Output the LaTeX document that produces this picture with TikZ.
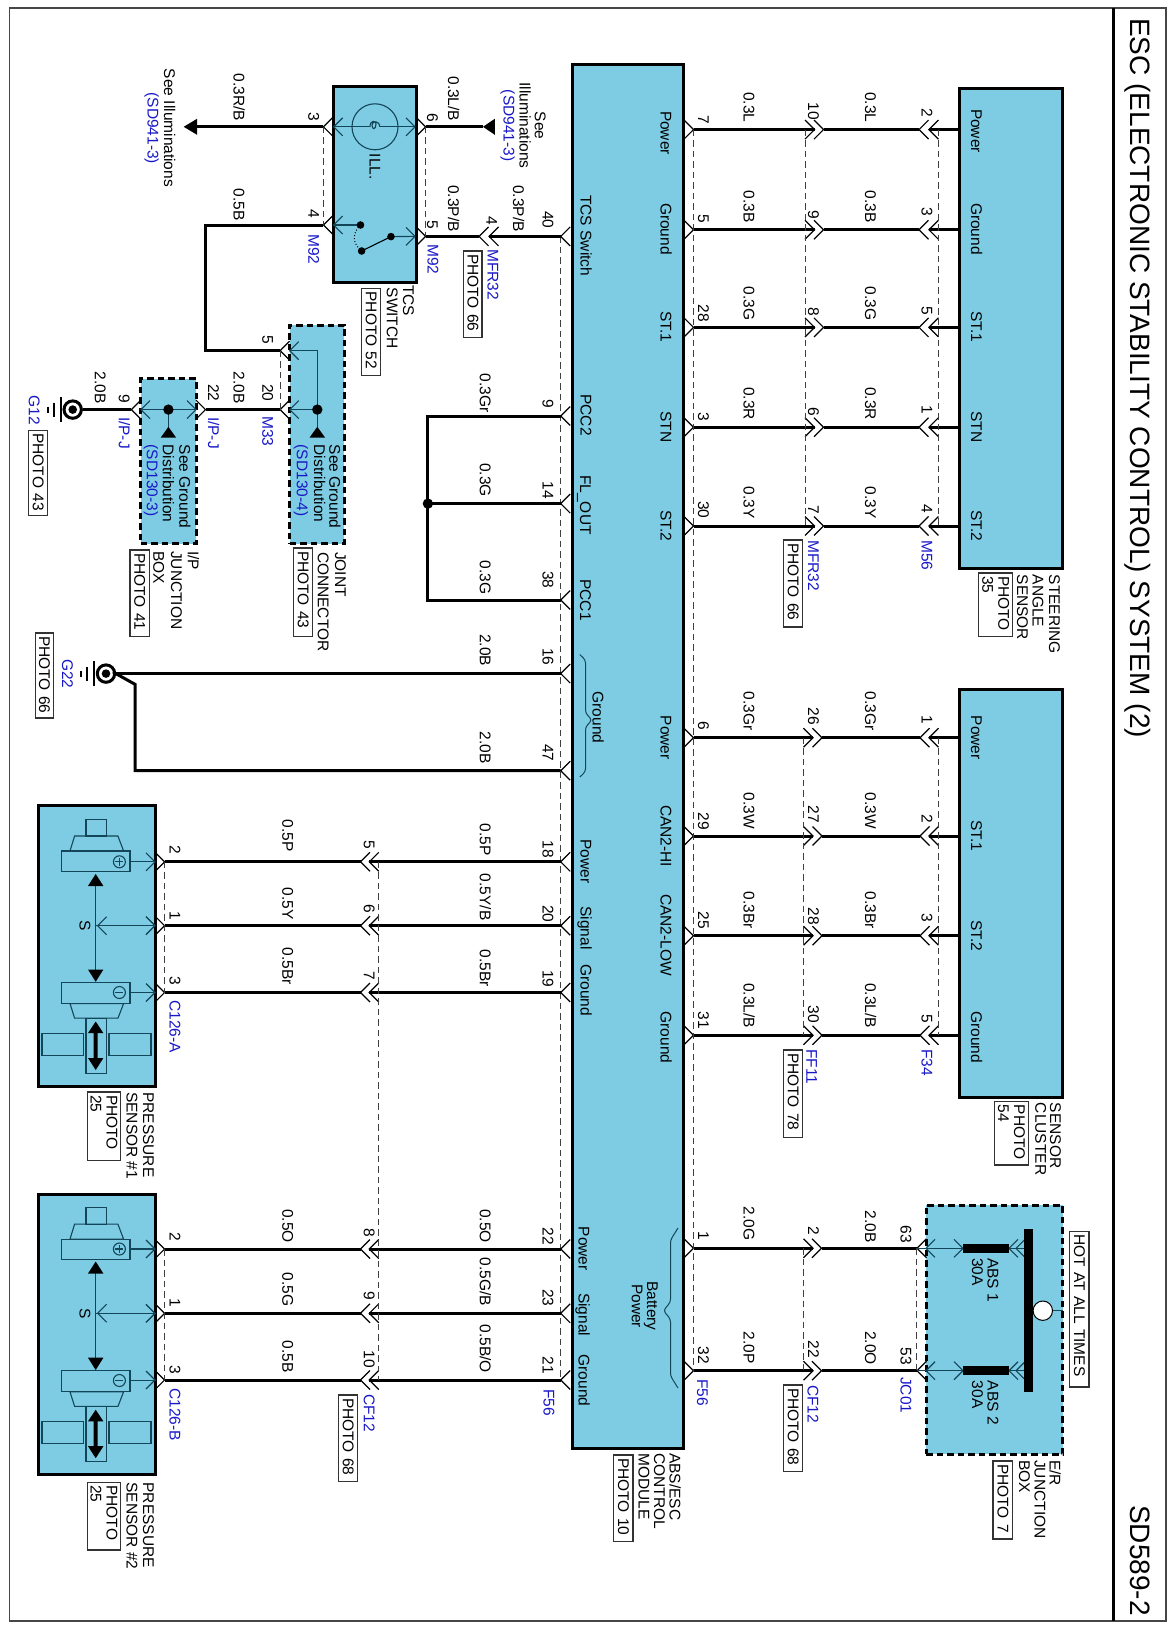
\documentclass[tikz,border=0pt]{standalone}
\usepackage{fontspec}
\setmainfont{Liberation Sans}
\newcount\lblcnt
\definecolor{modfill}{RGB}{126,204,227}
\definecolor{reflbl}{RGB}{24,24,200}
\definecolor{inkline}{RGB}{20,70,90}
\definecolor{framegray}{RGB}{70,70,70}
\tikzset{
 lbl/.style={rotate=-90,inner sep=0pt,font=\fontsize{15.5}{16}\selectfont,text height=11pt,text depth=0pt},
 reflabel/.style={lbl,text=reflbl},
 titlelbl/.style={rotate=-90,inner sep=0pt,font=\fontsize{28}{28}\selectfont,text height=20pt,text depth=0pt},
 wire/.style={line width=3pt,line cap=butt},
 hair/.style={line width=1.2pt,black},
 inner/.style={line width=1.1pt,inkline},
 dashw/.style={line width=1pt,black!75,dash pattern=on 6.5pt off 4pt},
 solidbox/.style={draw=black,fill=modfill,line width=3pt,inner sep=0pt},
 dashbox/.style={draw=black,fill=modfill,line width=3pt,inner sep=0pt,dash pattern=on 6.5pt off 4pt},
 photobox/.style={draw=black!80,line width=1.1pt,rotate=-90,inner xsep=3pt,inner ysep=0pt,font=\fontsize{15.5}{16}\selectfont,align=left},
}
\newcommand\Lx[4][lbl]{\global\advance\lblcnt 1 \node[#1,anchor=west] (n\the\lblcnt) at (#2,#3) {#4};}
\newcommand\Le[4][lbl]{\global\advance\lblcnt 1 \node[#1,anchor=east] (n\the\lblcnt) at (#2,#3) {#4};}
\newcommand\Lc[4][lbl]{\global\advance\lblcnt 1 \node[#1,anchor=center] (n\the\lblcnt) at (#2,#3) {#4};}
\newcommand\chev[3]{\draw[hair] ({#1+(#3)*9.5},{#2-9.5}) -- (#1,#2) -- ({#1+(#3)*9.5},{#2+9.5});}
\newcommand\ichev[3]{\draw[inner] ({#1+(#3)*9},{#2-9}) -- (#1,#2) -- ({#1+(#3)*9},{#2+9});}
\newcommand\modbox[6]{\node[#6,minimum width={(#4-#2)*1pt},minimum height={(#5-#3)*1pt},anchor=center] (#1) at ({(#2+#4)/2},{(#3+#5)/2}) {};}
\newcommand\pbox[5]{\global\advance\lblcnt 1 \pgfmathsetmacro\pw{#4-#2}\pgfmathsetmacro\ph{#3-#1}\node[photobox,text width={(\pw-6)*1pt},minimum height={\ph*1pt},anchor=center] (n\the\lblcnt) at ({(#1+#3)/2},{(#2+#4)/2}) {#5};}
% row from ECU right side through in-line connector to a sensor box
\newcommand\sensrow[7]{
 \coordinate (#1-e) at (693.5,#2); \coordinate (#1-a) at (#3,#2); \coordinate (#1-b) at (#4,#2);
 \coordinate (#1-c) at (#5,#2); \coordinate (#1-d) at (#6,#2); \coordinate (#1-f) at (#7,#2);
 \chev{693.5}{#2}{-1}\chev{#3}{#2}{-1}\chev{#4}{#2}{-1}\chev{#5}{#2}{1}\chev{#6}{#2}{1}
 \draw[wire] (#1-e) -- (#1-a); \draw[wire] (#1-b) -- (#1-c); \draw[wire] (#1-d) -- (#1-f);}
% pressure sensor rows
\newcommand\presrow[2]{
 \coordinate (#1-s) at (164.6,#2); \coordinate (#1-a) at (360.5,#2); \coordinate (#1-b) at (369.3,#2);
 \coordinate (#1-e) at (560.7,#2);
 \chev{164.6}{#2}{-1}\chev{360.5}{#2}{1}\chev{369.3}{#2}{1}\chev{560.7}{#2}{1}
 \ichev{155}{#2}{-1}
 \draw[wire] (#1-s) -- (#1-a); \draw[wire] (#1-b) -- (#1-e);}
% pressure sensor interior
\newcommand\psens[6]{
 \draw[inner] (86,#1) rectangle (106.4,{#1+16.4});
 \draw[inner] (74.6,{#1+16.4}) -- (117.9,{#1+16.4}) -- (123.6,{#1+31.4}) -- (70,{#1+31.4}) -- cycle;
 \draw[inner] (61.2,{#1+31.4}) rectangle (130,#2);
 \draw[inner] (119.4,#3) circle[radius=6];
 \draw[inner] (115.4,#3) -- (123.4,#3); \draw[inner] (119.4,{#3-4}) -- (119.4,{#3+4});
 \draw[inner] (130,#3) -- (155,#3);
 \draw[inner] (95.7,{#2+10}) -- (95.7,{#5-10});
 \fill[black] (95.7,{#2+2.2}) -- (103.4,{#2+14.2}) -- (88,{#2+14.2}) -- cycle;
 \fill[black] (95.7,{#5-0.7}) -- (103.4,{#5-13}) -- (88,{#5-13}) -- cycle;
 \draw[inner] (95.7,#4) -- (155,#4); \ichev{97.6}{#4}{1}\ichev{155}{#4}{-1}
 \Lc{85}{#4}{S}
 \draw[inner] (61.2,#5) rectangle (130,{#5+21.1});
 \draw[inner] (119.4,#6) circle[radius=6]; \draw[inner] (115.4,#6) -- (123.4,#6);
 \draw[inner] (130,#6) -- (155,#6);
 \draw[inner] (70,{#5+21.1}) -- (123.6,{#5+21.1}) -- (118,{#5+35.6}) -- (74.6,{#5+35.6}) -- cycle;
 \draw[inner] (86,{#5+35.6}) rectangle (106.4,{#5+91});
 \draw[inner] (42,{#5+50.6}) rectangle (83.4,{#5+73});
 \draw[inner] (109,{#5+50.6}) rectangle (151,{#5+73});
 \fill[black] (95.7,{#5+39}) -- (103.4,{#5+50.6}) -- (97.7,{#5+50.6}) -- (97.7,{#5+75.5}) -- (103.4,{#5+75.5}) -- (95.7,{#5+87.5}) -- (88,{#5+75.5}) -- (93.7,{#5+75.5}) -- (93.7,{#5+50.6}) -- (88,{#5+50.6}) -- cycle;
}
\newcommand\gnd[3]{
 \draw[line width=3pt,fill=white] (#2,#3) circle[radius=8.7];
 \fill[black] (#2,#3) circle[radius=4.3];
 \coordinate (#1) at ({#2+10},#3);
 \draw[line width=2.4pt] ({#2-12},{#3-12.5}) -- ({#2-12},{#3+12.5});
 \draw[line width=2.4pt] ({#2-19},{#3-7}) -- ({#2-19},{#3+7});
 \draw[line width=2.4pt] ({#2-25},{#3-3}) -- ({#2-25},{#3+3});
}
\begin{document}
\begin{tikzpicture}[x=1pt,y=-1pt]
\useasboundingbox (0,0) rectangle (1172,1632);
% frame
\draw[framegray,line width=1.2pt] (9.5,8) rectangle (1166,1621);
\coordinate (bar-t) at (1113.5,8); \coordinate (bar-b) at (1113.5,1621);
\draw[line width=3.6pt] (bar-t) -- (bar-b);
\node[titlelbl,anchor=west] (title) at (1140,18) {ESC (ELECTRONIC STABILITY CONTROL) SYSTEM (2)};
\node[titlelbl,anchor=west] (code) at (1140,1505) {SD589-2};

% boxes
\modbox{ecu}{572}{65}{683.3}{1448}{solidbox}
\modbox{sas}{959.3}{88.4}{1062.7}{568}{solidbox}
\modbox{clu}{959.3}{689.3}{1062.7}{1097.7}{solidbox}
\modbox{erj}{926}{1205}{1062.7}{1454}{dashbox}
\modbox{tcs}{333.7}{86.8}{416.4}{282}{solidbox}
\modbox{jnt}{289.7}{325}{344.4}{543.6}{dashbox}
\modbox{ipj}{140.8}{378.6}{196}{543.6}{dashbox}
\modbox{ps1}{38.3}{805.7}{155}{1086}{solidbox}
\modbox{ps2}{38.3}{1194}{155}{1474.3}{solidbox}

% steering angle sensor rows
\sensrow{a1}{129.6}{814.5}{823.5}{919}{928.9}{959.3}
\sensrow{a2}{229.8}{814.5}{823.5}{919}{928.9}{959.3}
\sensrow{a3}{327.4}{814.5}{823.5}{919}{928.9}{959.3}
\sensrow{a4}{427.2}{814.5}{823.5}{919}{928.9}{959.3}
\sensrow{a5}{526}{814.5}{823.5}{919}{928.9}{959.3}
\coordinate (a1-x) at (805,129.6); \coordinate (a5-x) at (805,526);
\coordinate (a1-y) at (938,129.6); \coordinate (a5-y) at (938,526);
\draw[dashw] (a1-x) -- (a5-x); \draw[dashw] (a1-y) -- (a5-y);
% sensor cluster rows
\sensrow{b1}{737.7}{813}{822}{920}{929}{959.3}
\sensrow{b2}{836}{813}{822}{920}{929}{959.3}
\sensrow{b3}{935.7}{813}{822}{920}{929}{959.3}
\sensrow{b4}{1035.3}{813}{822}{920}{929}{959.3}
\coordinate (b1-x) at (803,737.7); \coordinate (b4-x) at (803,1035.3);
\coordinate (b1-y) at (938.6,737.7); \coordinate (b4-y) at (938.6,1035.3);
\draw[dashw] (b1-x) -- (b4-x); \draw[dashw] (b1-y) -- (b4-y);
% E/R rows
\foreach \id/\yy in {c1/1248.3,c2/1370.7}{
 \coordinate (\id-e) at (693.5,\yy); \coordinate (\id-a) at (813,\yy); \coordinate (\id-b) at (821.5,\yy); \coordinate (\id-c) at (917,\yy);
 \chev{693.5}{\yy}{-1}\chev{813}{\yy}{-1}\chev{821.5}{\yy}{-1}\chev{917}{\yy}{1}
 \draw[wire] (\id-e) -- (\id-a); \draw[wire] (\id-b) -- (\id-c);
 \coordinate (\id-in) at (926,\yy); \coordinate (\id-fl) at (963,\yy); \coordinate (\id-fr) at (1009,\yy); \coordinate (\id-bus) at (1024,\yy);
 \draw[inner] (\id-c) -- (\id-fl); \ichev{926}{\yy}{1}\ichev{963}{\yy}{-1}
 \draw[inner] (\id-fr) -- (\id-bus); \ichev{1009}{\yy}{1}\ichev{1016}{\yy}{1}
 \fill[black] (963,{\yy-4.5}) rectangle (1009,{\yy+4.5});
}
\coordinate (c1-x) at (803,1248.3); \coordinate (c2-x) at (803,1370.7);
\coordinate (c1-y) at (916,1248.3); \coordinate (c2-y) at (916,1370.7);
\draw[dashw] (c1-x) -- (c2-x); \draw[dashw] (c1-y) -- (c2-y);
\draw[dashw] (a1-e) -- (c2-e);
% bus
\fill[black] (1023.7,1229) rectangle (1033,1392);
\coordinate (bat-t) at (1052.6,1310.7); \coordinate (bat-o) at (1062.7,1310.7);
\draw[inner] (bat-t) -- (bat-o);
\draw[line width=1pt,fill=white] (1042.8,1310.7) circle[radius=9.7];

% ECU left rows
\foreach \id/\yy in {p40/236.4,p9/416,p14/503.6,p38/600,p16/673.6,p47/770.7,p22x/1249}{
 \coordinate (\id) at (560.7,\yy);}
\foreach \yy in {236.4,416,503.6,600,673.6,770.7}{\chev{560.7}{\yy}{1}}
\coordinate (dl-t) at (560.7,236.4); \coordinate (dl-b) at (560.7,1380);
\draw[dashw] (dl-t) -- (dl-b);
% pcc wiring
\coordinate (pc-t) at (427.9,416); \coordinate (pc-m) at (427.9,503.6); \coordinate (pc-b) at (427.9,600);
\draw[wire,line join=miter] (p9) -- (pc-t) -- (pc-b) -- (p38);
\draw[wire] (p14) -- (pc-m);
\fill[black] (pc-m) circle[radius=5.2];
% pressure sensor rows
\presrow{r1}{861.8}\presrow{r2}{925.7}\presrow{r3}{992.5}
\presrow{r4}{1249}\presrow{r5}{1313.3}\presrow{r6}{1380}
\coordinate (iy-t) at (378.9,861.8); \coordinate (iy-b) at (378.9,1380);
\draw[dashw] (iy-t) -- (iy-b);
\draw[dashw] (r1-s) -- (r3-s); \draw[dashw] (r4-s) -- (r6-s);
\psens{819.6}{871.8}{861.8}{925.7}{982.5}{992.5}
\psens{1207.7}{1259.3}{1249}{1313.3}{1370.7}{1380.5}

% TCS switch
\coordinate (s3) at (323.4,126.8); \coordinate (s4) at (323.4,225);
\coordinate (s6) at (425.6,126.8); \coordinate (s5) at (425.6,236.4);
\coordinate (ar3) at (197,126.8); \coordinate (ar6) at (483,126.8);
\chev{323.4}{126.8}{1}\chev{323.4}{225}{1}\chev{425.6}{126.8}{-1}\chev{425.6}{236.4}{-1}
\draw[dashw] (s3) -- (s4); \draw[dashw] (s6) -- (s5);
\draw[wire] (s3) -- (ar3);
\fill[black] (183.7,126.8) -- (197,118.8) -- (197,134.8) -- cycle;
\draw[wire] (s6) -- (ar6);
\fill[black] (483,126.8) -- (494.8,118.8) -- (494.8,134.8) -- cycle;
% connector MFR32
\coordinate (m-a) at (479,236.4); \coordinate (m-b) at (489,236.4);
\chev{479}{236.4}{1}\chev{489}{236.4}{1}
\draw[wire] (s5) -- (m-a); \draw[wire] (m-b) -- (p40);
% lamp
\draw[inner] (333.7,126.8) -- (370,126.8); \draw[inner] (380,126.8) -- (415,126.8);
\ichev{333.7}{126.8}{1}\ichev{415}{126.8}{-1}
\draw[inner] (375,126.8) circle[radius=23];
\draw[inner] (370,126.8) .. controls (370,120) and (376,120) .. (376,124) .. controls (376,130) and (372,130) .. (372,125) .. controls (372,120) and (380,121) .. (380,126.8);
% switch
\coordinate (sw-a) at (360.5,225); \coordinate (sw-b) at (391,236.6); \coordinate (sw-c) at (361.6,251);
\coordinate (sw-l) at (333.7,225); \coordinate (sw-r) at (415,236.4);
\draw[inner] (sw-l) -- (sw-a); \draw[inner] (sw-b) -- (sw-r);
\ichev{333.7}{225}{1}\ichev{415}{236.4}{-1}
\draw[inner,black] (sw-c) -- (sw-b);
\draw[line width=1pt,dotted] (sw-a) .. controls (352,233) and (352,243) .. (sw-c);
\fill[black] (sw-a) circle[radius=3.8]; \fill[black] (sw-b) circle[radius=3.8]; \fill[black] (sw-c) circle[radius=3.8];
% 0.5B wire to joint connector
\coordinate (j5) at (280.1,350.7); \coordinate (j20) at (280.1,409.6);
\coordinate (w-a) at (205.9,225); \coordinate (w-b) at (205.9,350.7);
\draw[wire,line join=miter] (s4) -- (w-a) -- (w-b) -- (j5);
\chev{280.1}{350.7}{1}\chev{280.1}{409.6}{1}
\draw[dashw] (j5) -- (j20);
\coordinate (jd) at (317.3,409.6); \coordinate (jt) at (317.3,427);
\coordinate (ji5) at (289.7,350.7); \coordinate (ji20) at (289.7,409.6); \coordinate (jc) at (317.3,350.7);
\draw[inner] (ji5) -- (jc) -- (jd); \draw[inner] (ji20) -- (jd); \draw[inner] (jd) -- (jt);
\ichev{289.7}{350.7}{1}\ichev{289.7}{409.6}{1}
\fill[black] (jd) circle[radius=5.2];
\fill[black] (317.3,426.8) -- (325,437.5) -- (309.6,437.5) -- cycle;
% I/P junction
\coordinate (ir) at (205.5,409.6); \coordinate (il) at (131.3,409.6);
\coordinate (iir) at (196,409.6); \coordinate (iil) at (141,409.6); \coordinate (id) at (168.4,409.6); \coordinate (it) at (168.4,427);
\chev{205.5}{409.6}{-1}\chev{131.3}{409.6}{1}
\draw[wire] (j20) -- (ir);
\draw[inner] (iil) -- (iir); \draw[inner] (id) -- (it);
\ichev{141}{409.6}{1}\ichev{196}{409.6}{-1}
\fill[black] (id) circle[radius=5.2];
\fill[black] (168.4,426.8) -- (176,437.5) -- (160.8,437.5) -- cycle;
% grounds
\gnd{g12}{72.7}{409.6}
\draw[wire] (il) -- (g12);
\gnd{g22}{106}{673.6}
\draw[wire] (p16) -- (g22);
\coordinate (g-c) at (135,770.7); \coordinate (g-d) at (135,684.3);
\draw[wire,line join=miter] (p47) -- (g-c) -- (g-d) -- (113,672);
% braces
\draw[line width=1pt,inkline,rounded corners=3pt] (678,1228) -- (670.5,1240) -- (670.5,1302) -- (663.4,1310.7) -- (670.5,1319) -- (670.5,1376) -- (678,1388);
\draw[line width=1pt,inkline,rounded corners=3pt] (579.8,654.6) -- (585.5,660) -- (585.5,713) -- (592,720) -- (585.5,727) -- (585.5,771.7) -- (579.8,777);

% ---- texts ----
% ECU labels
\foreach \yy/\tt in {133/Power,229/Ground,326.6/ST.1,427/STN,525.7/ST.2,737.7/Power,836/CAN2-HI,935/CAN2-LOW,1037.6/Ground}{\Lc{666}{\yy}{\tt}}
\Lc{586}{235.7}{TCS Switch}\Lc{586}{415}{PCC2}\Lc{585.5}{505}{FL\_OUT}\Lc{585.5}{600}{PCC1}
\Lc{586}{861.6}{Power}\Lc{586}{928}{Signal}\Lc{586}{990}{Ground}
\Lc{584}{1248.7}{Power}\Lc{584}{1314.7}{Signal}\Lc{584}{1380.5}{Ground}
\Lc{598}{717.6}{Ground}
\Lc{652.5}{1306}{Battery}\Lc{637.3}{1306}{Power}
% sensor labels
\foreach \yy/\tt in {131/Power,229/Ground,326.6/ST.1,427/STN,525.7/ST.2,737.7/Power,836/ST.1,935.7/ST.2,1037/Ground}{\Lc{976.5}{\yy}{\tt}}
% right wire gauge labels
\foreach \yy/\tt in {122.6/0.3L,222.8/0.3B,320.4/0.3G,420.2/0.3R,519/0.3Y,730.7/0.3Gr,829/0.3W,928.7/0.3Br,1028.3/{0.3L/B},1240.5/2.0G,1363.7/2.0P}{\Le{749}{\yy}{\tt}}
\foreach \yy/\tt in {122.6/0.3L,222.8/0.3B,320.4/0.3G,420.2/0.3R,519/0.3Y,730.7/0.3Gr,829/0.3W,928.7/0.3Br,1028.3/{0.3L/B},1243/2.0B,1365/2.0O}{\Le{870.5}{\yy}{\tt}}
% right pin numbers
\foreach \yy/\tt in {124/7,223/5,322/28,421.7/3,518.5/30,730.7/6,830/29,929/25,1029/31,1240/1,1364/32}{\Le{703.6}{\yy}{\tt}}
\foreach \yy/\tt in {120/10,219/9,316.5/8,416.7/6,514/7,725/26,823/27,925/28,1023/30,1235/2,1358/22}{\Le{813.5}{\yy}{\tt}}
\foreach \yy/\tt in {117/2,216.7/3,315/5,414.6/1,513.5/4,724/1,823/2,922.7/3,1023/5}{\Le{927}{\yy}{\tt}}
\Le{906}{1243}{63}\Le{906}{1365}{53}
% right refs
\Lx[reflabel]{813.7}{540}{MFR32}\pbox{783.7}{540}{802.8}{627}{PHOTO 66}
\Lx[reflabel]{927}{540}{M56}
\Lx[reflabel]{811.8}{1049}{FF11}\pbox{783.7}{1050}{802.8}{1137.3}{PHOTO 78}
\Lx[reflabel]{927}{1049}{F34}
\Lx[reflabel]{702.5}{1379}{F56}
\Lx[reflabel]{813}{1385}{CF12}\pbox{783.7}{1385}{802.8}{1471.7}{PHOTO 68}
\Lx[reflabel]{906}{1377}{JC01}
% E/R
\Lx{993}{1258}{ABS 1}\Lx{977.6}{1258}{30A}\Lx{993}{1380.7}{ABS 2}\Lx{977.6}{1380.7}{30A}
\pbox{1069.7}{1231.7}{1089}{1387}{HOT AT ALL TIMES}
\Lx{1055}{1460}{E/R}\Lx{1040}{1460}{JUNCTION}\Lx{1024.5}{1460}{BOX}
\pbox{993}{1461}{1012.8}{1539}{PHOTO 7}
\Lx{675}{1453}{ABS/ESC}\Lx{659.5}{1453}{CONTROL}\Lx{644}{1453}{MODULE}
\pbox{613.9}{1455}{633}{1541.7}{PHOTO 10}
\Lx{1054.5}{574.5}{STEERING}\Lx{1038}{574.5}{ANGLE}\Lx{1022.5}{574.5}{SENSOR}
\pbox{978.4}{573}{1012.8}{636.4}{PHOTO\\35}
\Lx{1055.7}{1102.7}{SENSOR}\Lx{1040.9}{1102.7}{CLUSTER}
\pbox{994.4}{1101.7}{1028.4}{1165}{PHOTO\\54}
% left ECU pin numbers and gauges
\foreach \yy/\tt in {228.6/40,408/9,499/14,588.6/38,665.7/16,761.8/47,858/18,922.5/20,987.5/19,1245/22,1306.7/23,1374/21}{\Le{548}{\yy}{\tt}}
\Le{518.6}{232}{0.3P/B}
\foreach \yy/\tt in {412.5/0.3Gr,497/0.3G,594.6/0.3G,666.4/2.0B,764/2.0B,856/0.5P,920.7/{0.5Y/B},987/0.5Br,1243/0.5O,1306/{0.5G/B},1373/{0.5B/O}}{\Le{485.3}{\yy}{\tt}}
\foreach \yy/\tt in {852/0.5P,920/0.5Y,985/0.5Br,1243/0.5O,1306.7/0.5G,1373/0.5B}{\Le{287.8}{\yy}{\tt}}
\foreach \yy/\tt in {854.6/2,920.7/1,985/3,1241.7/2,1307/1,1374/3}{\Le{175}{\yy}{\tt}}
\foreach \yy/\tt in {849/5,913.6/6,980/7,1237/8,1300/9,1368/10}{\Le{369.3}{\yy}{\tt}}
\Lx[reflabel]{549}{1389}{F56}
\Lx[reflabel]{175}{1000}{C126-A}\Lx[reflabel]{175}{1388}{C126-B}
\Lx[reflabel]{369.3}{1394}{CF12}\pbox{338.7}{1395}{357.8}{1481.7}{PHOTO 68}
\Lx{148.5}{1092}{PRESSURE}\Lx{132}{1092}{SENSOR \#1}\pbox{87.3}{1092}{120.5}{1160.7}{PHOTO\\25}
\Lx{148.5}{1482.3}{PRESSURE}\Lx{132}{1482.3}{SENSOR \#2}\pbox{87.3}{1482.3}{120.5}{1550}{PHOTO\\25}
% TCS texts
\Le{239}{121.4}{0.3R/B}\Le{239}{220.7}{0.5B}\Le{453.5}{121.4}{0.3L/B}\Le{453.5}{232}{0.3P/B}
\Le{313.8}{121.4}{3}\Le{313.8}{218.6}{4}\Le{432.5}{122}{6}\Le{432.5}{229.3}{5}\Le{491.8}{225}{4}
\Lx[reflabel]{313.8}{234}{M92}\Lx[reflabel]{433.2}{244}{M92}
\Lx[reflabel]{493}{249}{MFR32}\pbox{463.8}{251}{482}{337.5}{PHOTO 66}
\Lc{169.5}{128}{See Illuminations}\Lc[reflabel]{153}{128.4}{(SD941-3)}
\Lc{540.4}{125.6}{See}\Lc{525}{125.4}{Illuminations}\Lc[reflabel]{509}{125.7}{(SD941-3)}
\Lx{375}{153.6}{ILL.}
\Lx{408.7}{285}{TCS}\Lx{392.3}{287.5}{SWITCH}\pbox{361.6}{288.6}{380.8}{375.7}{PHOTO 52}
% joint connector
\Lx{334.9}{444.6}{See Ground}\Lx{319.6}{444.6}{Distribution}\Lx[reflabel]{302.3}{444.6}{(SD130-4)}
\Le{267.9}{344.6}{5}\Le{267.9}{401.8}{20}\Lx[reflabel]{267.9}{416}{M33}\Le{239}{404}{2.0B}
\Lx{340.6}{551.8}{JOINT}\Lx{323.4}{551.8}{CONNECTOR}\pbox{293.9}{548}{312.7}{636.8}{PHOTO 43}
% I/P junction
\Lx{184.8}{444.6}{See Ground}\Lx{168.4}{444.6}{Distribution}\Lx[reflabel]{152.3}{444.6}{(SD130-3)}
\Le{213.5}{401.8}{22}\Lx[reflabel]{213.5}{416.8}{I/P-J}\Le{124.4}{402.9}{9}\Lx[reflabel]{124.4}{416.8}{I/P-J}\Le{100.3}{404}{2.0B}
\Lx{193.3}{551}{I/P}\Lx{176.5}{551}{JUNCTION}\Lx{158.8}{551}{BOX}\pbox{130}{550}{149.3}{636.8}{PHOTO 41}
\Lx[reflabel]{34.4}{395.4}{G12}\pbox{28.7}{430.4}{47.8}{515.4}{PHOTO 43}
\Lx[reflabel]{67.7}{659}{G22}\pbox{35.2}{633}{53.6}{718}{PHOTO 66}
\end{tikzpicture}
\end{document}
